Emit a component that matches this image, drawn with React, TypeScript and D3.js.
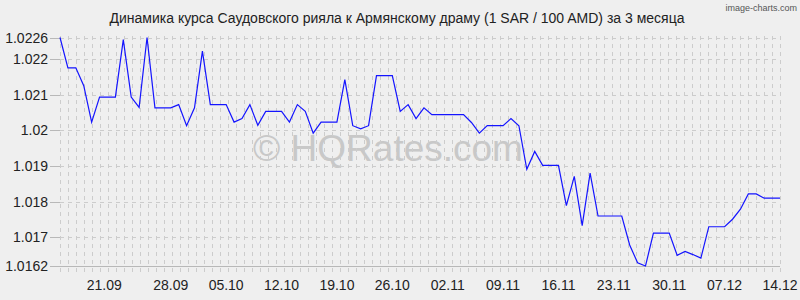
import React from 'react';
import * as d3 from 'd3';

const rates: number[] = [
  1.0226, 1.02175, 1.02175, 1.02125, 1.02023, 1.02093, 1.02093, 1.02093, 1.02254, 1.02093,
  1.02064, 1.0226, 1.02063, 1.02063, 1.02063, 1.02072, 1.02013, 1.02063, 1.02222, 1.02072,
  1.02072, 1.02072, 1.02023, 1.02033, 1.02072, 1.02014, 1.02053, 1.02053, 1.02053, 1.02023,
  1.02072, 1.02053, 1.01992, 1.02023, 1.02023, 1.02023, 1.02142, 1.02013, 1.02004, 1.02013,
  1.02153, 1.02153, 1.02153, 1.02053, 1.02072, 1.02033, 1.02063, 1.02044, 1.02044, 1.02044,
  1.02044, 1.02044, 1.02022, 1.01992, 1.02013, 1.02013, 1.02013, 1.02033, 1.02013, 1.01891,
  1.01941, 1.01902, 1.01902, 1.01902, 1.01789, 1.01871, 1.01733, 1.0188, 1.0176, 1.0176,
  1.0176, 1.0176, 1.01679, 1.01629, 1.0162, 1.01712, 1.01712, 1.01712, 1.0165, 1.01661,
  1.01652, 1.01642, 1.0173, 1.0173, 1.0173, 1.01751, 1.01779, 1.01822, 1.01822, 1.0181,
  1.0181, 1.0181,
];

const yTicks: number[] = [1.0226, 1.022, 1.021, 1.02, 1.019, 1.018, 1.017, 1.0162];
const yTickLabels: string[] = ['1.0226', '1.022', '1.021', '1.02', '1.019', '1.018', '1.017', '1.0162'];

const xLabels: string[] = ['21.09', '28.09', '05.10', '12.10', '19.10', '26.10', '02.11', '09.11', '16.11', '23.11', '30.11', '07.12', '14.12'];
const xLabelIndex: number[] = [5.6, 14, 21, 28, 35, 42, 49, 56, 63, 70, 77, 84, 91];

const title = 'Динамика курса Саудовского рияла к Армянскому драму (1 SAR / 100 AMD) за 3 месяца';

const W = 800;
const H = 300;
const FONT = '"Liberation Sans", Arial, sans-serif';

export default function App() {
  const left = 60;
  const right = 780;
  const top = 37.5;
  const bottom = 266;

  const x = d3.scaleLinear().domain([0, rates.length - 1]).range([left, right]);
  const y = d3.scaleLinear().domain([1.0162, 1.0226]).range([bottom, top]);

  const line = d3
    .line<number>()
    .x((_, i) => x(i))
    .y((d) => y(d));

  const vGrid: number[] = [];
  for (let gx = left; gx <= right + 0.1; gx += 8) vGrid.push(gx);

  return (
    <div style={{ position: 'fixed', left: 0, top: 0, width: W, height: H }}>
      <svg width={W} height={H} style={{ display: 'block', background: '#efefef' }}>
        <rect x={0} y={0} width={W} height={H} fill="#efefef" />
        {/* watermark */}
        <text
          x={388}
          y={161}
          textAnchor="middle"
          fontFamily={FONT}
          fontSize={37}
          fill="#c8c8c8"
        >
          © HQRates.com
        </text>
        {/* vertical grid */}
        {vGrid.map((gx, i) => (
          <line
            key={'v' + i}
            x1={Math.round(gx) + 0.5}
            x2={Math.round(gx) + 0.5}
            y1={36}
            y2={276}
            stroke="#cccccc"
            strokeWidth={1}
            strokeDasharray="4,4"
          />
        ))}
        {/* horizontal grid */}
        {yTicks.slice(0, -1).map((t, i) => (
          <line
            key={'h' + i}
            x1={left}
            x2={right}
            y1={Math.round(y(t)) + 0.5}
            y2={Math.round(y(t)) + 0.5}
            stroke="#cccccc"
            strokeWidth={1}
            strokeDasharray="4,4"
          />
        ))}
        {/* bottom axis */}
        <line
          x1={left}
          x2={right}
          y1={Math.round(y(1.0162)) + 0.5}
          y2={Math.round(y(1.0162)) + 0.5}
          stroke="#b8b8b8"
          strokeWidth={1}
        />
        {/* y ticks & labels */}
        {yTicks.map((t, i) => (
          <g key={'yt' + i}>
            <line
              x1={50}
              x2={left}
              y1={Math.round(y(t)) + 0.5}
              y2={Math.round(y(t)) + 0.5}
              stroke="#b8b8b8"
              strokeWidth={1}
            />
            <text
              x={48}
              y={y(t) + 5}
              textAnchor="end"
              fontFamily={FONT}
              fontSize={14}
              fill="#222"
            >
              {yTickLabels[i]}
            </text>
          </g>
        ))}
        {/* x labels */}
        {xLabels.map((l, i) => (
          <text
            key={'xl' + i}
            x={x(xLabelIndex[i])}
            y={290}
            textAnchor="middle"
            fontFamily={FONT}
            fontSize={14}
            fill="#222"
          >
            {l}
          </text>
        ))}
        {/* data line */}
        <path d={line(rates) || ''} fill="none" stroke="#1414ff" strokeWidth={1.2} />
        {/* title */}
        <text x={397} y={23} textAnchor="middle" fontFamily={FONT} fontSize={14} fill="#222">
          {title}
        </text>
        <text x={797} y={11} textAnchor="end" fontFamily={FONT} fontSize={9} fill="#555">
          image-charts.com
        </text>
      </svg>
    </div>
  );
}
